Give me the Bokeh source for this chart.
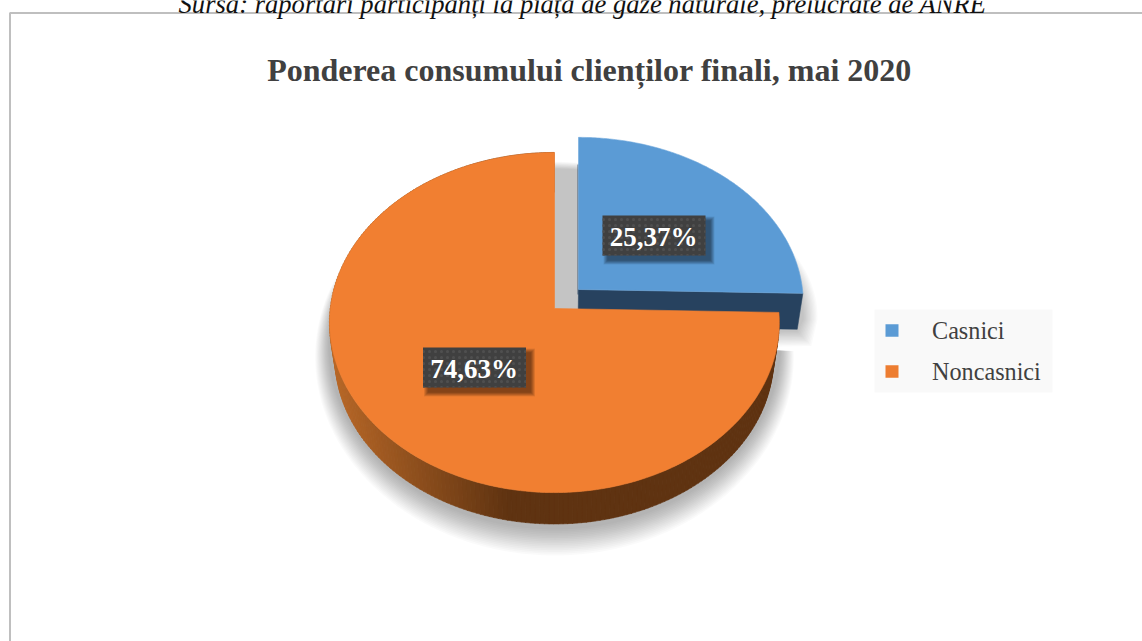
import numpy as np
from bokeh.plotting import figure
from bokeh.embed import file_html
from bokeh.resources import INLINE
from bokeh.core.properties import value

categories = ["Casnici", "Noncasnici"]
shares = [25.37, 74.63]
colors = ["#5B9BD5", "#F17F31"]
legend_colors = ["#5B9BD5", "#ED7D31"]
title_text = "Ponderea consumului clienților finali, mai 2020"
source_text = "Sursă: raportări participanți la piața de gaze naturale, prelucrate de ANRE"

SERIF = value("Liberation Serif")

p = figure(width=1142, height=641, x_range=(0, 1142), y_range=(641, 0),
           output_backend="svg", toolbar_location=None, min_border=0)
p.margin = (0, 0, 0, 0)
p.axis.visible = False
p.grid.visible = False
p.outline_line_color = None
p.background_fill_color = "white"
p.border_fill_color = "white"

# perspective geometry
A, KP = 224.0, 0.0824
BY = 168.9
DEPTH, SHRINK = 36.0, 0.975


def proj(theta, ax, ay, scale=1.0, dy=0.0, yscale=1.0):
    X, Y = np.sin(theta), np.cos(theta)
    d = 1 + KP * Y
    return ax + scale * A * X / d, ay + dy - yscale * scale * BY * Y / d


def arc(t0, t1, n=160):
    return np.linspace(t0, t1, n)


fracs = np.array(shares) / sum(shares)
split = 2 * np.pi * fracs[0]

# frame
p.line([1142, 9.5, 9.5], [12.5, 12.5, 641], line_color="#BFBFBF", line_width=2)

# source note (cropped by page top)
p.text([582], [3], text=[source_text], text_font=SERIF, text_font_size="26.6px",
       text_font_style="italic", text_color="#111111", text_align="center",
       text_baseline="alphabetic")

# title
p.text([589], [69.5], text=[title_text], text_font=SERIF, text_font_size="32px",
       text_font_style="bold", text_color="#404040", text_align="center",
       text_baseline="middle")

# soft shadow of the orange slice (open over the gap below the blue slice)
N = 16
for i in range(N):
    g = i / (N - 1)
    grow = 26 * (1 - g)
    th = arc(split, 2 * np.pi, 180)
    w = 0.5 - 0.5 * np.cos(th)
    xs = 554 + (226 + grow * w) * np.sin(th)
    ys = 346 - (183 + grow * w) * np.cos(th)
    p.patch(np.r_[xs, 540], np.r_[ys, 330], fill_color="black", fill_alpha=0.021, line_color=None)

# soft shadow of the blue slice
N = 12
for i in range(N):
    g = i / (N - 1)
    grow = 14 * (1 - g)
    th = arc(0, split, 60)
    ax, ay = 545.0, 316.0
    X = ax + (A + 34 + grow) * np.sin(th)
    Y = ay - (148 + 0.5 * grow) * np.cos(th)
    xs = np.concatenate([[ax], X, [X[-1] - 6], [ax]])
    ys = np.concatenate([[ay + 20 + grow], Y, [Y[-1] + 12 + grow], [ay + 20 + grow]])
    p.patch(xs, ys, fill_color="black", fill_alpha=0.018, line_color=None)

# blue slice (exploded)
bx, by = 578.0, 289.0
tb = arc(0, split)
x0, y0 = proj(np.array([split]), bx, by)
x1, y1 = proj(np.array([split]), bx, by, SHRINK, DEPTH)
p.patch([bx, x0[0], x1[0], bx - 0.5], [by, y0[0], y1[0], by + DEPTH],
        fill_color="#27425F", line_color="#27425F", line_width=0.5)
p.line([bx - 0.5, bx - 0.5], [by - 125, by + 5], line_color="#27425F", line_width=0.8)
tx, ty = proj(tb, bx, by, yscale=0.975)
p.patch(np.r_[bx, tx], np.r_[by, ty], fill_color=colors[0], line_color="#6FA8DC", line_width=0.6)

# orange slice
ox, oy = 554.0, 308.0
to = arc(split, 2 * np.pi, 240)
L = np.array([0xB8, 0x68, 0x28])
D = np.array([0x5F, 0x33, 0x11])
px_t, py_t = proj(to, ox, oy)
px_b, py_b = proj(to, ox, oy, SHRINK, DEPTH)
qxs, qys, qcs = [], [], []
for i in range(len(to) - 1):
    mid = 0.5 * (px_b[i] + px_b[i + 1])
    f = np.clip((mid - 336) / (510 - 336), 0, 1)
    c = (L + (D - L) * f).astype(int)
    qxs.append([px_t[i], px_t[i + 1] - 0.4, px_b[i + 1] - 0.4, px_b[i]])
    qys.append([py_t[i], py_t[i + 1], py_b[i + 1], py_b[i]])
    qcs.append("#%02X%02X%02X" % tuple(c))
p.patches(qxs, qys, fill_color=qcs, line_color=qcs, line_width=0.6)
p.patch(np.r_[ox, px_t], np.r_[oy, py_t], fill_color=colors[1], line_color=colors[1], line_width=0.6)

# data labels
label_pos = [(653.5, 235), (474, 367)]
labels = [f"{v:.2f}".replace(".", ",") + "%" for v in shares]
for (lx, ly), lab in zip(label_pos, labels):
    for i in range(8):
        g = i / 7
        grow = 4 * (1 - g)
        p.rect([lx + 5], [ly + 5], width=[103 + 2 * grow], height=[40 + 2 * grow],
               fill_color="black", fill_alpha=0.07, line_color=None)
    p.rect([lx], [ly], width=[103], height=[40], fill_color="#404040", line_color=None,
           hatch_pattern="dot", hatch_color="#4F4F4F", hatch_scale=6, hatch_weight=1)
    p.text([lx - 0.5], [ly + 1], text=[lab], text_font=SERIF, text_font_size="27px",
           text_font_style="bold", text_color="white", text_align="center",
           text_baseline="middle")

# legend
p.rect([963], [350.5], width=[178], height=[83], fill_color="#F9F9F9", line_color=None)
legend_y = [330, 371]
p.rect([891.5] * 2, legend_y, width=[13, 13], height=[12.5, 12.5],
       fill_color=legend_colors, line_color=None)
p.text([931.5] * 2, legend_y, text=categories, text_font=SERIF, text_font_size="24.2px",
       text_color="#404040", text_align="left", text_baseline="middle")

open("out.html", "w").write(file_html(p, INLINE))
